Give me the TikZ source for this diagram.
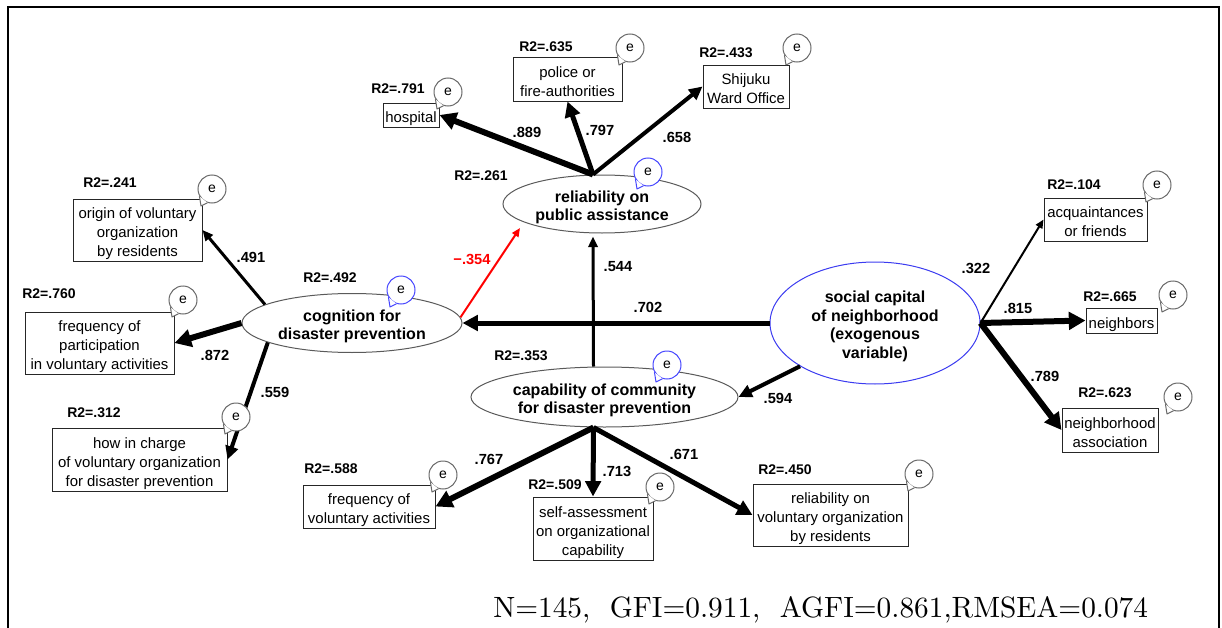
\documentclass[tikz,border=0pt]{standalone}
\usepackage{fontspec}
\newfontfamily\jsans{Liberation Sans}
\newfontfamily\lmtenfont{lmroman10-regular.otf}
\usetikzlibrary{arrows.meta,shapes.geometric,calc}
\definecolor{bubgray}{RGB}{105,105,105}
\definecolor{bubblue}{RGB}{70,70,255}
\definecolor{ellgray}{RGB}{90,90,90}
\definecolor{socblue}{RGB}{60,60,240}
\definecolor{negred}{RGB}{255,0,0}
\tikzset{
 obs/.style={draw=black!85, rectangle, inner sep=0pt, line width=0.75pt, font=\jsans\fontsize{11.2}{14.25}\selectfont},
 lat/.style={ellipse, draw=ellgray, inner sep=0pt, line width=0.75pt, font=\jsans\bfseries\fontsize{12}{13.9}\selectfont},
 r2lab/.style={inner sep=0pt, font=\jsans\bfseries\fontsize{10.5}{12}\selectfont},
 coef/.style={inner sep=0pt, font=\jsans\bfseries\fontsize{11}{12}\selectfont},
 ebub/.style={circle, fill=white, minimum size=21pt, inner sep=0pt, line width=0.75pt, font=\jsans\fontsize{10.5}{12}\selectfont},
 aA/.style={line width=4.5pt, -{Triangle[length=12.5pt,width=13pt]}},
 aB/.style={line width=3.75pt, -{Triangle[length=11.5pt,width=11.5pt]}},
 aC/.style={line width=3pt, -{Triangle[length=10pt,width=9.5pt]}},
 aD/.style={line width=2.25pt, -{Triangle[length=8pt,width=7pt]}},
 aE/.style={line width=1.5pt, -{Triangle[length=6.5pt,width=5.5pt]}},
 aR/.style={line width=1.5pt, draw=negred, -{Triangle[length=6.5pt,width=5.5pt]}},
}
\newcommand\lowtext[1]{\raisebox{-2.8pt}[\height][\depth]{\begin{tabular}{@{}c@{}}#1\end{tabular}}}
\newcommand\ebubbleat[3]{%
  \node[ebub, draw=#3] (#1) at (#2) {e};
  \filldraw[draw=#3, fill=white, line width=0.75pt, line join=round] (#1.210) -- ($(#1.center)+(-11,17)$) -- (#1.252);
}
\begin{document}
\begin{tikzpicture}[x=0.75pt,y=-0.75pt]
\useasboundingbox (0,0) rectangle (1222,628);
\draw[line width=1.5pt] (8,628) -- (8,7) -- (1219,7) -- (1219,628);

% latent variables
\node[lat, minimum width=148.5pt, minimum height=43.5pt] (rel) at (602,204) {\lowtext{reliability on\\public assistance}};
\node[lat, minimum width=165pt, minimum height=44.25pt] (cog) at (352,323) {\lowtext{cognition for\\disaster prevention}};
\node[lat, minimum width=200.25pt, minimum height=45pt] (cap) at (604.5,397) {\lowtext{capability of community\\for disaster prevention}};
\node[lat, draw=socblue, minimum width=157.5pt, minimum height=91.5pt] (soc) at (875,323) {\lowtext{social capital\\of neighborhood\\(exogenous\\variable)}};

% observed variables
\node[obs, minimum width=42pt, minimum height=18pt] (hosp) at (411,115) {\lowtext{hospital}};
\node[obs, minimum width=81.75pt, minimum height=33pt] (police) at (567.5,79) {\lowtext{police or\\fire-authorities}};
\node[obs, minimum width=64.5pt, minimum height=32.25pt] (shij) at (746,86.5) {\lowtext{Shijuku\\Ward Office}};
\node[obs, minimum width=96.75pt, minimum height=46.5pt] (orig) at (137.5,230) {\lowtext{origin of voluntary\\organization\\by residents}};
\node[obs, minimum width=111.75pt, minimum height=46.5pt] (fpart) at (99.5,343) {\lowtext{frequency of\\participation\\in voluntary activities}};
\node[obs, minimum width=131.25pt, minimum height=47.25pt] (howc) at (139.5,459.5) {\lowtext{how in charge\\of voluntary organization\\for disaster prevention}};
\node[obs, minimum width=77.25pt, minimum height=32.25pt] (acq) at (1095.5,219.5) {\lowtext{acquaintances\\or friends}};
\node[obs, minimum width=53.25pt, minimum height=18.75pt] (neigh) at (1121.5,320.5) {\lowtext{neighbors}};
\node[obs, minimum width=72pt, minimum height=33pt] (nassoc) at (1110,430) {\lowtext{neighborhood\\association}};
\node[obs, minimum width=99pt, minimum height=32.25pt] (fvol) at (369,506.5) {\lowtext{frequency of\\voluntary activities}};
\node[obs, minimum width=90pt, minimum height=47.25pt] (self) at (593,528.5) {\lowtext{self-assessment\\on organizational\\capability}};
\node[obs, minimum width=116.25pt, minimum height=46.5pt] (relvol) at (830.5,515) {\lowtext{reliability on\\voluntary organization\\by residents}};

% connector end points
\coordinate (relTop) at ($(rel.north)+(-9,0)$);
\coordinate (relBot) at ($(rel.south)+(-9,3)$);
\coordinate (capTop) at ($(cap.north)+(-11,0)$);
\coordinate (capBot) at ($(cap.south)+(-11,0)$);
\coordinate (relNeg) at ($(rel.center)+(-82,24)$);

% paths
\draw[aA] (relTop) -- (hosp.east);
\draw[aB] (relTop) -- (police.south);
\draw[aC] (relTop) -- (shij.west);
\draw[aD] (cog.168) -- (orig.east);
\draw[aA] (cog.west) -- (fpart.east);
\draw[aC] (cog.193) -- (howc.east);
\draw[aR] (cog.3) -- (relNeg);
\draw[aD] (capTop) -- (relBot);
\draw[aB] (soc.west) -- (cog.east);
\draw[aC] (soc.210) -- (cap.east);
\draw[aA] (capBot) -- (fvol.east);
\draw[aB] (capBot) -- (self.north);
\draw[aB] (capBot) -- (relvol.west);
\draw[aE] (soc.east) -- (acq.west);
\draw[aA] (soc.east) -- (neigh.west);
\draw[aA] (soc.east) -- (nassoc.west);

% coefficients
\node[coef] (c889) at (527,132) {.889};
\node[coef] (c797) at (600,130) {.797};
\node[coef] (c658) at (677,137) {.658};
\node[coef] (c491) at (251,257) {.491};
\node[coef] (c872) at (215,355) {.872};
\node[coef] (c559) at (275,392) {.559};
\node[coef, text=negred] (c354) at (472,259) {−.354};
\node[coef] (c544) at (618,267) {.544};
\node[coef] (c702) at (648,307) {.702};
\node[coef] (c594) at (778,398) {.594};
\node[coef] (c767) at (489,459) {.767};
\node[coef] (c713) at (617,471) {.713};
\node[coef] (c671) at (684,454) {.671};
\node[coef] (c322) at (976,268) {.322};
\node[coef] (c815) at (1018,308) {.815};
\node[coef] (c789) at (1045,376) {.789};

% R2 labels
\node[r2lab] (r2hosp) at (398,89) {R2=.791};
\node[r2lab] (r2pol) at (546,47) {R2=.635};
\node[r2lab] (r2shij) at (726,53) {R2=.433};
\node[r2lab] (r2rel) at (481,176) {R2=.261};
\node[r2lab] (r2orig) at (110,183) {R2=.241};
\node[r2lab] (r2fpart) at (49,294) {R2=.760};
\node[r2lab] (r2howc) at (94,413) {R2=.312};
\node[r2lab] (r2cog) at (330,278) {R2=.492};
\node[r2lab] (r2acq) at (1074,185) {R2=.104};
\node[r2lab] (r2neigh) at (1110,297) {R2=.665};
\node[r2lab] (r2nassoc) at (1105,393) {R2=.623};
\node[r2lab] (r2cap) at (521,356) {R2=.353};
\node[r2lab] (r2fvol) at (331,469) {R2=.588};
\node[r2lab] (r2self) at (555,485) {R2=.509};
\node[r2lab] (r2relvol) at (785,470) {R2=.450};

% error bubbles
\ebubbleat{ehosp}{448,92}{bubgray}
\ebubbleat{epol}{630,48}{bubgray}
\ebubbleat{eshij}{797,48}{bubgray}
\ebubbleat{erel}{648,172}{bubblue}
\ebubbleat{eorig}{212,189}{bubgray}
\ebubbleat{efpart}{183,300}{bubgray}
\ebubbleat{ehowc}{236,417}{bubgray}
\ebubbleat{ecog}{401,290}{bubblue}
\ebubbleat{eacq}{1157,185}{bubgray}
\ebubbleat{eneigh}{1173,295}{bubgray}
\ebubbleat{enassoc}{1178,397}{bubgray}
\ebubbleat{ecap}{667,365}{bubblue}
\ebubbleat{efvol}{443,475}{bubgray}
\ebubbleat{eself}{660,487}{bubgray}
\ebubbleat{erelvol}{919,474}{bubgray}

% fit indices
\node[anchor=base west, inner sep=0pt, font=\lmtenfont\fontsize{22}{26}\selectfont] (fit) at (493,617) {N=145,\ \ GFI=0.911,\ \ AGFI=0.861,RMSEA=0.074};
\end{tikzpicture}
\end{document}
